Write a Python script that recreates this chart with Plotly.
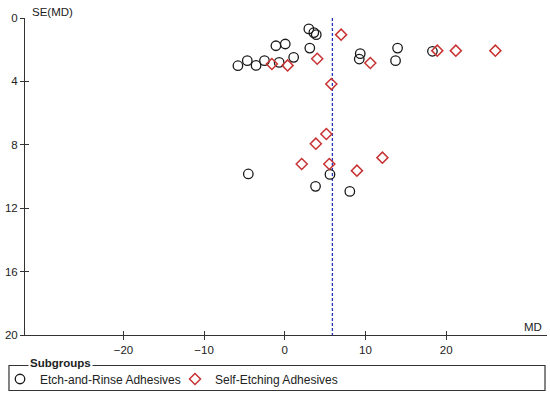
import plotly.graph_objects as go

# Etch-and-Rinse Adhesives (circles)
er_md = [2.98, 3.6, 3.9, 0.06, -1.1, 3.1, 1.1, -0.7, 9.35, 9.23, 13.98, 13.73, 18.3,
         5.6, -5.81, -4.65, -3.56, -2.52, -4.52, 3.81, 8.06]
er_se = [0.69, 0.92, 1.05, 1.64, 1.75, 1.9, 2.48, 2.8, 2.25, 2.59, 1.9, 2.69, 2.1,
         9.87, 3.01, 2.69, 2.99, 2.69, 9.84, 10.62, 10.94]

# Self-Etching Adhesives (diamonds)
se_md = [6.98, 4.02, 0.35, 10.6, 18.9, 21.2, 26.1, 5.77, 5.15, 3.85, 2.1, 5.52, 12.1, 8.94, -1.6]
se_se = [1.05, 2.57, 2.99, 2.84, 2.06, 2.06, 2.06, 4.17, 7.32, 7.93, 9.21, 9.21, 8.81, 9.63, 2.9]

pooled_md = 5.9
x_ticks = [-20, -10, 0, 10, 20]
y_ticks = [0, 4, 8, 12, 16, 20]
x_range = [-32.2, 32.5]
y_range = [20, 0]

FONT = "Liberation Sans, Arial, sans-serif"
TXT = "#222222"

W, H = 550, 397

fig = go.Figure()
fig.add_trace(go.Scatter(
    x=er_md, y=er_se, mode="markers", name="Etch-and-Rinse Adhesives",
    marker=dict(symbol="circle-open", size=9.5, color="#1a1a1a", line=dict(width=1.3, color="#1a1a1a")),
))
fig.add_trace(go.Scatter(
    x=se_md, y=se_se, mode="markers", name="Self-Etching Adhesives",
    marker=dict(symbol="diamond-open", size=8.5, color="#c83232", line=dict(width=1.5, color="#c83232")),
))
# dummy trace for overlay axes (inside ticks)
fig.add_trace(go.Scatter(x=[], y=[], xaxis="x2", yaxis="y2", showlegend=False, hoverinfo="skip"))

fig.add_shape(type="line", x0=pooled_md, x1=pooled_md, y0=0, y1=20, xref="x", yref="y",
              line=dict(color="#2233bb", width=1.3, dash="3px,2px"), layer="below")

axis_common = dict(showgrid=False, zeroline=False, ticks="outside", ticklen=4, tickwidth=1,
                   tickcolor="#333", linecolor="#333", linewidth=1, showline=True,
                   automargin=False, tickfont=dict(family=FONT, size=11.5, color=TXT))

fig.update_layout(
    width=W, height=H,
    margin=dict(l=25, r=3.3, t=18.3, b=61.5, autoexpand=False),
    plot_bgcolor="white", paper_bgcolor="white",
    xaxis=dict(range=x_range, tickvals=x_ticks, **axis_common),
    yaxis=dict(range=y_range, tickvals=y_ticks, **axis_common),
    xaxis2=dict(range=x_range, tickvals=x_ticks, overlaying="x", anchor="y2", ticks="inside",
                ticklen=4, tickcolor="#333", showticklabels=False, showgrid=False, zeroline=False,
                showline=False, automargin=False),
    yaxis2=dict(range=y_range, tickvals=y_ticks, overlaying="y", anchor="x2", side="left",
                ticks="inside", ticklen=4, tickcolor="#333", showticklabels=False,
                showgrid=False, zeroline=False, showline=False, automargin=False),
    showlegend=True,
    legend=dict(orientation="h", xref="container", yref="container",
                x=-8 / W, xanchor="left", y=1 - 379 / H, yanchor="middle",
                font=dict(family=FONT, size=12, color=TXT), bgcolor="rgba(0,0,0,0)",
                entrywidth=130, entrywidthmode="pixels", itemwidth=30),
    font=dict(family=FONT, color=TXT),
)

# legend frame (fieldset style)
fig.add_shape(type="rect", xref="paper", yref="paper", x0=-0.0307, x1=0.9962, y0=-0.175, y1=-0.0962,
              line=dict(color="#333", width=1.2), fillcolor="rgba(0,0,0,0)")
fig.add_annotation(text="<b>Subgroups</b>", xref="paper", yref="paper", x=0.0057, y=-0.0898,
                   xanchor="left", yanchor="middle", showarrow=False, bgcolor="white",
                   font=dict(family=FONT, size=11.5, color=TXT), borderpad=1)
fig.add_annotation(text="MD", xref="paper", yref="paper", x=0.995, y=(335.5 - 327) / 317.2,
                   xanchor="right", yanchor="middle", showarrow=False,
                   font=dict(family=FONT, size=11.5, color=TXT))
fig.add_annotation(text="SE(MD)", xref="paper", yref="paper", x=0.0096, y=(335.5 - 12) / 317.2,
                   xanchor="left", yanchor="middle", showarrow=False,
                   font=dict(family=FONT, size=11.5, color=TXT))

fig.write_html("out.html", config={"displayModeBar": False},
               post_script="document.body.style.margin='0';document.body.style.padding='0';")
